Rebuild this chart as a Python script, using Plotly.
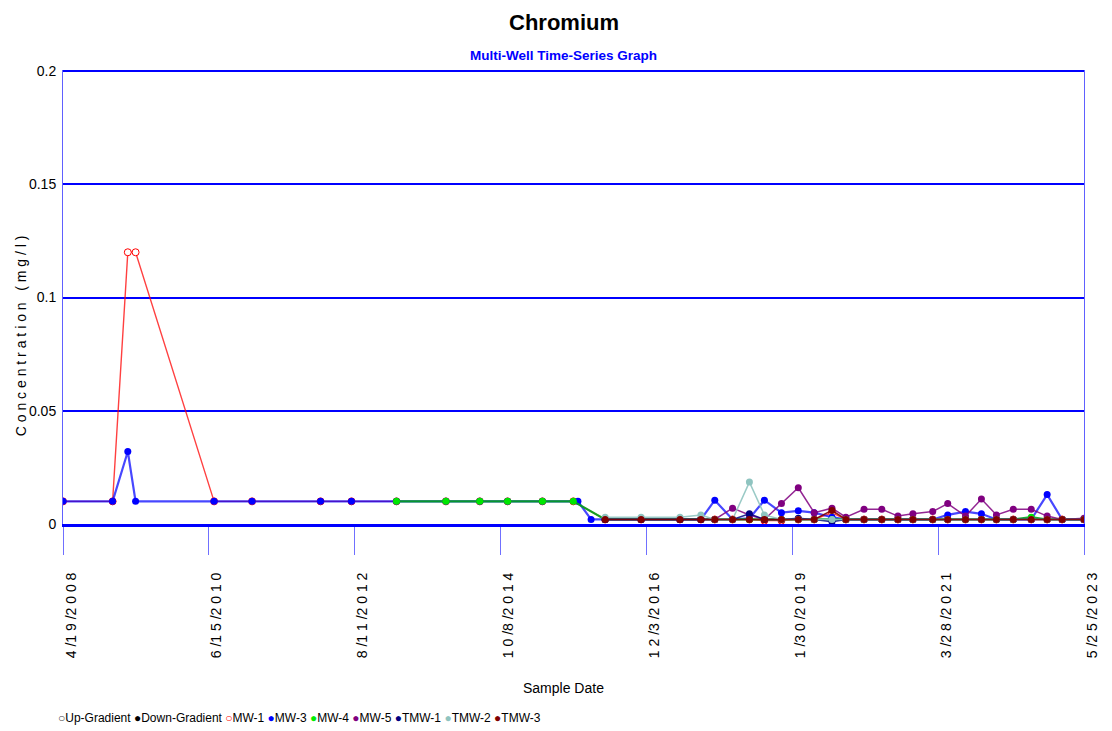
import plotly.graph_objects as go

# ---- sample dates -------------------------------------------------------
early_dates = ["2008-04-19", "2009-01-12", "2009-04-04", "2009-05-16",
               "2010-07-14", "2011-02-04", "2012-02-09", "2012-07-25"]
mid_dates = ["2013-03-25", "2013-12-17", "2014-06-18", "2014-11-15",
             "2015-05-22", "2015-11-05"]
late_dates = ["2016-04-25", "2016-11-05", "2017-06-03", "2017-09-24",
              "2017-12-08", "2018-03-14", "2018-06-13", "2018-09-02",
              "2018-12-03", "2019-03-04", "2019-05-29", "2019-09-02",
              "2019-11-16", "2020-02-22", "2020-05-28", "2020-08-23",
              "2020-11-12", "2021-02-27", "2021-05-19", "2021-08-23",
              "2021-11-17", "2022-02-06", "2022-05-08", "2022-08-13",
              "2022-11-07", "2023-01-27", "2023-05-25"]
mw3_extra_dates = ["2015-11-30", "2016-02-09"]

# ---- concentrations (mg/l) ----------------------------------------------
mw1_early = [0.01, 0.01, 0.12, 0.12, 0.01, 0.01, 0.01, 0.01]
mw1_mid = [0.01, 0.01, 0.01, 0.01, 0.01, 0.01]
mw1_late = [0.002, 0.002, 0.002, 0.002, 0.002, 0.002, 0.002, 0.0015,
            0.0015, 0.002, 0.002, 0.005, 0.002, 0.002, 0.002, 0.002,
            0.002, 0.002, 0.002, 0.002, 0.002, 0.002, 0.002, 0.002,
            0.002, 0.002, 0.002]

mw3_early = [0.01, 0.01, 0.032, 0.01, 0.01, 0.01, 0.01, 0.01]
mw3_mid = [0.01, 0.01, 0.01, 0.01, 0.01]
mw3_extra = [0.01, 0.002]
mw3_late = [0.002, 0.002, 0.002, 0.002, 0.0105, 0.002, 0.0025, 0.0105,
            0.005, 0.0058, 0.005, 0.003, 0.002, 0.002, 0.002, 0.002,
            0.002, 0.002, 0.004, 0.0055, 0.0045, 0.002, 0.002, 0.002,
            0.013, 0.002, 0.002]

mw4_mid = [0.01, 0.01, 0.01, 0.01, 0.01, 0.01]
mw4_late = [0.002, 0.002, 0.002, 0.002, 0.002, 0.002, 0.002, 0.002,
            0.002, 0.002, 0.002, 0.002, 0.002, 0.002, 0.002, 0.002,
            0.002, 0.002, 0.002, 0.002, 0.002, 0.002, 0.002, 0.003,
            0.002, 0.002, 0.002]

mw5_late = [0.002, 0.002, 0.002, 0.002, 0.002, 0.007, 0.004, 0.002,
            0.009, 0.016, 0.005, 0.007, 0.003, 0.0065, 0.0065, 0.0035,
            0.0045, 0.0055, 0.009, 0.0035, 0.011, 0.004, 0.0065, 0.0065,
            0.0035, 0.002, 0.0025]

tmw1_late = [0.002, 0.002, 0.002, 0.002, 0.002, 0.002, 0.0045, 0.002,
             0.002, 0.0025, 0.002, 0.001, 0.002, 0.002, 0.002, 0.002,
             0.002, 0.002, 0.002, 0.002, 0.002, 0.002, 0.002, 0.002,
             0.002, 0.002, 0.002]

tmw2_late = [0.003, 0.003, 0.003, 0.004, 0.002, 0.002, 0.0185, 0.004,
             0.002, 0.002, 0.002, 0.002, 0.002, 0.002, 0.002, 0.002,
             0.002, 0.002, 0.002, 0.002, 0.002, 0.002, 0.002, 0.002,
             0.002, 0.002, 0.002]

tmw3_late = [0.002, 0.002, 0.002, 0.002, 0.002, 0.002, 0.002, 0.002,
             0.002, 0.002, 0.002, 0.006, 0.002, 0.002, 0.002, 0.002,
             0.002, 0.002, 0.002, 0.002, 0.002, 0.002, 0.002, 0.002,
             0.002, 0.002, 0.002]

tick_dates = ["2008-04-19", "2010-06-15", "2012-08-11", "2014-10-08",
              "2016-12-03", "2019-01-30", "2021-03-28", "2023-05-25"]
tick_labels = ["4/19/2008", "6/15/2010", "8/11/2012", "10/8/2014",
               "12/3/2016", "1/30/2019", "3/28/2021", "5/25/2023"]
y_ticks = [0, 0.05, 0.1, 0.15, 0.2]
y_labels = ["0", "0.05", "0.1", "0.15", "0.2"]

legend_names = ["Up-Gradient", "Down-Gradient", "MW-1", "MW-3", "MW-4",
                "MW-5", "TMW-1", "TMW-2", "TMW-3"]
legend_symbols = ["○", "●", "○", "●", "●", "●", "●", "●", "●"]
legend_colors = ["#444444", "#000000", "#ff0000", "#0000ff", "#00ee00",
                 "#800080", "#000080", "#8fc4c0", "#800000"]

FONT = "Liberation Sans, Arial, sans-serif"
W, H = 1112, 731
L, R, T, B = 63, 23, 70, 207


def px_x(x):
    return (x - L) / (W - L - R)


def px_y(y):
    return (H - B - y) / (H - T - B)


def spaced(label):
    # digits are separated by a space, a slash hugs the following digit
    out = ""
    for i, ch in enumerate(label):
        out += ch
        if i < len(label) - 1 and ch != "/":
            out += " "
    return out


series = [
    # name, dates, values, line colour, line width, marker colour, open marker
    ("MW-1", early_dates + mid_dates + late_dates,
     mw1_early + mw1_mid + mw1_late, "rgba(255,0,0,0.75)", 1.4, "#ff0000", True),
    ("MW-3", early_dates + mid_dates[:-1] + mw3_extra_dates + late_dates,
     mw3_early + mw3_mid + mw3_extra + mw3_late, "rgba(0,0,255,0.72)", 2.2, "#0000ff", False),
    ("MW-4", mid_dates + late_dates, mw4_mid + mw4_late,
     "rgba(0,165,30,0.9)", 2.2, "#00e600", False),
    ("MW-5", late_dates, mw5_late, "rgba(128,0,128,0.85)", 1.5, "#800080", False),
    ("TMW-1", late_dates, tmw1_late, "rgba(0,0,128,0.85)", 1.5, "#000080", False),
    ("TMW-2", late_dates, tmw2_late, "rgba(143,196,192,0.9)", 1.5, "#8fc4c0", False),
    ("TMW-3", late_dates, tmw3_late, "rgba(128,0,0,0.9)", 1.5, "#800000", False),
]

fig = go.Figure()
for name, xs, ys, lcol, lw, mcol, hollow in series:
    marker = dict(size=7, color="white" if hollow else mcol,
                  line=dict(color=mcol, width=1 if hollow else 0),
                  symbol="circle")
    fig.add_trace(go.Scatter(x=xs, y=ys, name=name, mode="lines+markers",
                             line=dict(color=lcol, width=lw), marker=marker,
                             showlegend=False))

legend_text = " ".join(
    f"<span style='color:{c};font-size:12px'>{s}</span>{n}"
    for n, s, c in zip(legend_names, legend_symbols, legend_colors)
)

fig.update_layout(
    width=W, height=H,
    margin=dict(l=L, r=R, t=T, b=B),
    paper_bgcolor="white", plot_bgcolor="white",
    font=dict(family=FONT, color="black", size=14),
    xaxis=dict(
        type="date", range=["2008-04-19", "2023-05-25"],
        tickvals=tick_dates, ticktext=[spaced(t) for t in tick_labels],
        tickangle=-90,
        ticks="outside", ticklen=28, tickcolor="#7070ff", tickwidth=1,
        showgrid=False, zeroline=False,
        showline=True, linecolor="#0000ff", linewidth=3,
        tickfont=dict(size=14, family=FONT),
        ticklabelstandoff=12, ticklabelshift=8,
    ),
    yaxis=dict(
        range=[0, 0.2005], tickvals=y_ticks, ticktext=y_labels,
        showgrid=True, gridcolor="#0000ff", gridwidth=2,
        zeroline=False, showline=True, linecolor="#6060ff", linewidth=1,
        mirror=True, ticks="", tickfont=dict(size=14, family=FONT),
        ticklabelstandoff=3,
    ),
    annotations=[
        dict(text="<b>Chromium</b>", x=px_x(566), y=px_y(22),
             font=dict(size=22, family=FONT, color="black")),
        dict(text="<b>Multi-Well Time-Series Graph</b>", x=px_x(566), y=px_y(56),
             font=dict(size=13.5, family=FONT, color="#0000ff")),
        dict(text="C o n c e n t r a t i o n   ( m g / l )", textangle=-90,
             x=px_x(11), y=px_y(336), font=dict(size=14, family=FONT)),
        dict(text="Sample Date", x=px_x(566), y=px_y(688),
             font=dict(size=14, family=FONT)),
        dict(text=legend_text, x=px_x(56), y=px_y(718), xanchor="left",
             font=dict(size=12, family=FONT)),
    ],
)
fig.update_annotations(xref="paper", yref="paper", showarrow=False,
                       yanchor="middle")

fig.write_html("out.html")
